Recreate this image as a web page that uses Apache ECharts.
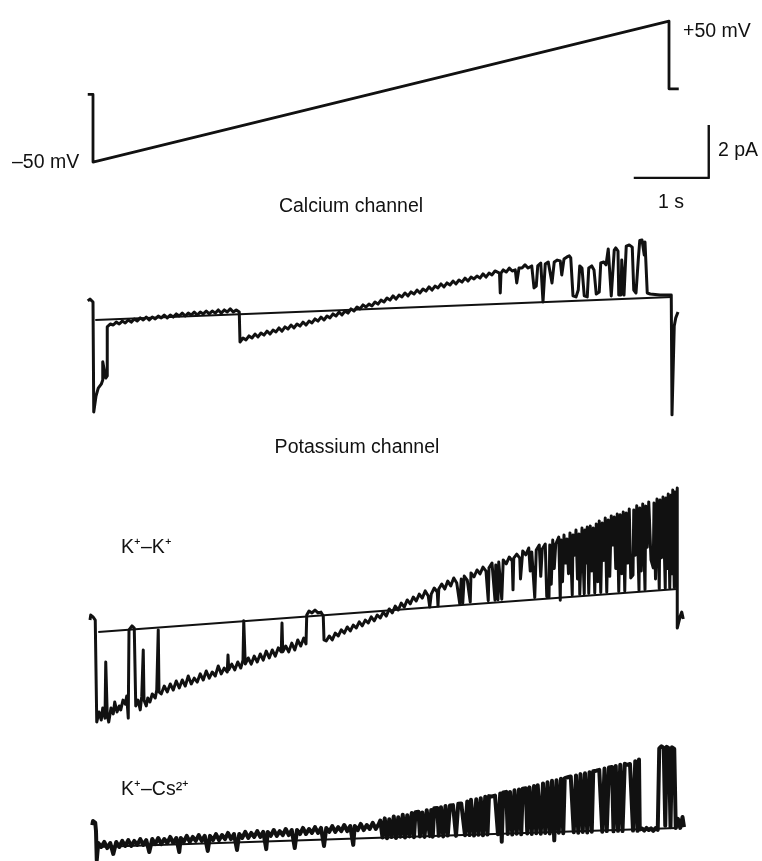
<!DOCTYPE html>
<html>
<head>
<meta charset="utf-8">
<script src="https://cdn.jsdelivr.net/npm/echarts@6/dist/echarts.min.js"></script>
<style>
  html, body { margin: 0; padding: 0; background: #fff; }
  #main { width: 762px; height: 861px; }
</style>
</head>
<body>
<div id="main"></div>
<script>
// time in s, voltage in mV, current in pA
var voltageTrace = [[-0.07,-2],[0,-2],[0,-50],[7.68,50],[7.68,2],[7.81,2]];

var scaleBarTime = [7.21, 8.21];     // 1 s
var scaleBarCurrent = [1.06, 3.06];  // 2 pA

var caLeak = [[0.03,0],[7.72,0.87]];
var caTrace = [
  [-0.07,0.72],[-0.04,0.79],[0,0.68],[0.01,-3.47],[0.04,-2.87],[0.07,-2.57],[0.11,-2.42],[0.13,-2.26],[0.13,-1.58],[0.15,-1.89],[0.17,-2.19],[0.19,-2.11],[0.19,-0.26],
  [0.23,-0.15],[0.27,-0.19],[0.31,-0.08],[0.35,-0.15],[0.39,-0.04],[0.43,-0.11],[0.47,0],[0.51,-0.08],[0.55,0.04],[0.59,-0.04],[0.63,0.08],[0.67,0],[0.71,0.11],[0.75,0],[0.79,0.11],[0.83,0.04],[0.87,0.15],[0.91,0.08],[0.95,0.19],[0.99,0.08],[1.03,0.19],[1.07,0.11],[1.11,0.23],[1.15,0.15],[1.19,0.26],[1.23,0.15],[1.27,0.26],[1.31,0.19],[1.35,0.3],[1.39,0.19],[1.43,0.3],[1.47,0.23],[1.51,0.34],[1.55,0.23],[1.59,0.34],[1.63,0.26],[1.67,0.38],[1.71,0.26],[1.75,0.38],[1.79,0.3],[1.83,0.42],[1.87,0.3],[1.91,0.38],[1.95,0.3],[1.96,-0.83],
  [2.0,-0.68],[2.04,-0.75],[2.08,-0.6],[2.12,-0.68],[2.16,-0.53],[2.2,-0.64],[2.24,-0.49],[2.28,-0.57],[2.32,-0.42],[2.36,-0.53],[2.4,-0.38],[2.44,-0.45],[2.48,-0.3],[2.52,-0.42],[2.56,-0.26],[2.6,-0.34],[2.64,-0.19],[2.68,-0.3],[2.72,-0.15],[2.76,-0.23],[2.8,-0.08],[2.84,-0.19],[2.88,-0.04],[2.92,-0.11],[2.96,0.04],[3.0,-0.04],[3.04,0.11],[3.08,0],[3.12,0.15],[3.16,0.08],[3.2,0.23],[3.24,0.15],[3.28,0.3],[3.32,0.19],[3.36,0.34],[3.4,0.26],[3.44,0.42],[3.48,0.34],[3.52,0.49],[3.56,0.42],[3.6,0.57],[3.64,0.49],[3.68,0.6],[3.72,0.53],[3.76,0.68],[3.8,0.6],
  [3.84,0.75],[3.88,0.68],[3.92,0.83],[3.96,0.75],[4.0,0.91],[4.04,0.79],[4.08,0.94],[4.12,0.87],[4.16,1.02],[4.2,0.91],[4.24,1.06],[4.28,0.98],[4.32,1.13],[4.36,1.02],[4.4,1.17],[4.44,1.09],[4.48,1.25],[4.52,1.13],[4.56,1.28],[4.6,1.21],[4.64,1.36],[4.68,1.25],[4.72,1.4],[4.76,1.32],[4.8,1.47],[4.84,1.36],[4.88,1.51],[4.92,1.43],[4.96,1.58],[5.0,1.47],[5.04,1.62],[5.08,1.55],[5.12,1.66],[5.16,1.58],[5.2,1.74],[5.24,1.62],[5.28,1.77],[5.32,1.7],[5.36,1.85],
  [5.42,1.77],[5.43,1.02],[5.44,1.77],[5.47,1.89],[5.51,1.81],[5.55,1.96],[5.59,1.85],[5.63,1.89],[5.65,1.4],[5.68,1.96],[5.72,1.96],[5.76,2.08],[5.8,1.96],[5.85,2.04],[5.88,1.21],[5.91,1.28],[5.93,2.04],[5.97,2.15],[6.0,0.68],[6.03,2.11],[6.07,2.19],[6.09,2.15],[6.12,1.4],[6.15,2.19],[6.19,2.26],[6.23,2.23],[6.25,1.7],[6.28,2.3],[6.32,2.38],
  [6.35,2.42],[6.37,2.34],[6.4,0.91],[6.44,0.87],[6.47,1.13],[6.49,2.04],[6.52,1.96],[6.55,0.91],[6.59,0.87],[6.61,1.96],[6.65,2.04],[6.68,1.89],[6.71,0.98],[6.75,1.06],[6.77,2.15],[6.81,2.19],[6.84,2.08],[6.87,2.68],[6.89,2.68],[6.91,0.91],[6.93,0.91],[6.95,2.64],[6.97,2.72],[7.0,2.6],[7.01,0.94],[7.04,0.94],[7.05,2.26],[7.08,0.94],[7.11,2.79],[7.15,2.83],[7.19,2.75],[7.21,1.13],[7.24,1.02],[7.27,2.26],[7.29,3.0],[7.32,3.02],[7.35,2.45],[7.36,2.94],[7.39,1.02],[7.43,0.98],[7.56,0.94],[7.71,0.94],[7.72,-3.58],[7.75,-0.23],[7.77,0.08],[7.8,0.3]
];

var kkLeak = [[0.07,0],[7.79,1.62]];
var kkTrace = [
  [-0.04,0.45],[-0.03,0.64],[0,0.57],[0.03,0.45],[0.05,-3.4],[0.08,-3.02],[0.11,-3.32],[0.13,-2.87],[0.16,-3.25],[0.17,-1.13],[0.19,-3.13],[0.21,-3.4],[0.24,-2.87],[0.27,-3.09],[0.29,-2.64],[0.32,-3.02],[0.35,-2.79],[0.37,-2.94],[0.4,-2.57],[0.43,-2.72],[0.45,-2.42],[0.47,-3.25],[0.48,0.08],[0.49,0.15],[0.52,0.23],[0.55,0.15],[0.57,-2.79],[0.6,-2.57],[0.63,-2.94],[0.65,-2.42],[0.67,-0.68],[0.68,-2.57],[0.71,-2.79],[0.73,-2.49],[0.76,-2.64],[0.79,-2.34],[0.83,-2.49],[0.85,-2.19],[0.87,0.08],[0.88,-2.26],
  [0.91,-2.34],[0.95,-2.04],[0.99,-2.26],[1.03,-1.96],[1.07,-2.19],[1.11,-1.85],[1.15,-2.11],[1.19,-1.81],[1.23,-2.04],[1.27,-1.66],[1.31,-1.96],[1.35,-1.74],[1.39,-1.89],[1.43,-1.58],[1.47,-1.81],[1.51,-1.47],[1.55,-1.74],[1.59,-1.51],[1.63,-1.66],[1.67,-1.28],[1.71,-1.58],[1.75,-1.36],[1.79,-1.51],[1.8,-0.87],[1.81,-1.43],[1.85,-1.21],[1.89,-1.43],[1.93,-1.13],[1.97,-1.36],[2.0,-1.06],[2.01,0.42],[2.03,-1.21],[2.07,-0.98],[2.11,-1.21],[2.15,-0.91],[2.19,-1.13],[2.23,-0.83],[2.27,-1.06],[2.31,-0.72],[2.35,-0.98],[2.39,-0.68],[2.43,-0.91],[2.47,-0.6],[2.51,-0.75],[2.52,0.34],[2.53,-0.75],[2.57,-0.53],[2.61,-0.75],[2.65,-0.42],[2.69,-0.68],[2.73,-0.3],[2.77,-0.53],[2.81,-0.23],[2.84,-0.45],[2.85,0.64],[2.88,0.79],[2.92,0.72],[2.96,0.83],[3.0,0.72],[3.04,0.75],[3.07,0.6],[3.08,-0.3],
  [3.11,-0.34],[3.15,-0.15],[3.19,-0.3],[3.23,-0.04],[3.27,-0.15],[3.31,0.08],[3.35,-0.04],[3.39,0.19],[3.43,0.04],[3.47,0.26],[3.51,0.15],[3.55,0.38],[3.59,0.23],[3.63,0.45],[3.67,0.34],[3.71,0.57],[3.75,0.42],[3.79,0.64],[3.83,0.53],
  [3.87,0.75],[3.91,0.6],[3.95,0.87],[3.99,0.72],[4.03,0.98],[4.07,0.83],[4.11,1.09],[4.15,0.94],[4.19,1.21],[4.23,1.06],[4.27,1.32],[4.31,1.17],[4.35,1.43],[4.39,1.28],[4.43,1.55],[4.47,1.36],[4.49,0.94],[4.51,1.43],[4.55,1.66],[4.59,1.51],[4.6,0.98],[4.61,1.62],[4.65,1.81],[4.69,1.62],[4.73,1.92],[4.77,1.74],[4.81,2.04],[4.85,1.85],[4.89,1.06],[4.91,2.0],[4.93,1.09],[4.95,2.11],[4.99,1.96],[5.03,1.13],[5.04,2.23],[5.08,2.08],[5.12,2.34],[5.16,2.19],[5.2,2.45],[5.24,2.3],[5.27,1.18],[5.28,2.42],[5.32,2.6],[5.36,1.2],[5.37,2.53],[5.4,1.22],[5.41,2.64],[5.45,1.24],[5.47,2.72],[5.51,2.57],[5.55,2.83],[5.59,2.68],[5.6,1.59],[5.61,2.79],[5.65,2.94],[5.69,2.79],[5.7,2.0],[5.73,3.06],[5.77,2.91],[5.81,3.17],[5.83,2.3],[5.85,3.02],[5.89,1.3],[5.91,3.09],[5.95,3.28],[5.97,2.1],[5.99,3.13],[6.03,3.32],[6.05,1.34],[6.08,1.32],[6.09,3.28],[6.11,1.8],[6.13,3.47],[6.15,2.4],[6.17,3.32],[6.21,3.58],[6.23,1.2],[6.24,3.47],[6.26,1.9],[6.28,3.66],[6.3,2.6],[6.32,3.51],[6.34,2.2],[6.36,3.74],[6.39,1.4],[6.4,3.66],[6.42,2.9],[6.44,3.85],[6.46,2.0],[6.48,3.7],[6.49,1.42],[6.52,3.92],[6.55,1.44],[6.56,3.85],[6.58,2.6],[6.59,3.96],[6.61,1.45],[6.63,4.0],[6.65,2.3],[6.67,3.92],[6.69,1.47],[6.71,4.08],[6.73,1.9],[6.75,4.19],[6.77,1.49],[6.79,4.11],[6.81,2.7],[6.83,4.3],[6.85,1.5],[6.87,4.23],[6.89,2.1],[6.91,4.38],[6.93,3.28],[6.95,4.34],[6.97,2.4],[6.99,4.45],[7.01,1.53],[7.03,4.42],[7.05,2.2],[7.07,4.53],[7.09,1.55],[7.11,4.49],[7.13,2.6],[7.15,4.64],[7.17,2.04],[7.2,2.15],[7.21,4.6],[7.23,2.9],[7.25,4.76],[7.28,1.58],[7.29,4.68],[7.31,2.3],[7.33,4.83],[7.36,1.6],[7.37,4.75],[7.39,3.2],[7.41,4.91],[7.44,2.72],[7.47,2.42],[7.48,4.87],[7.5,2.0],[7.52,5.02],[7.55,1.63],[7.56,4.98],[7.58,2.8],[7.6,5.09],[7.63,1.65],[7.64,5.06],[7.66,2.4],[7.67,5.21],[7.69,1.66],[7.71,5.17],[7.72,2.2],[7.73,5.36],[7.75,1.68],[7.76,5.28],[7.77,2.6],[7.79,5.43],[7.79,0.15],[7.83,0.6],[7.85,0.75],[7.87,0.49]
];

var kcsLeak = [[0.05,0],[7.79,0.72]];
var kcsTrace = [
  [-0.01,0.83],[0,0.98],[0.03,0.91],[0.04,0.6],[0.05,-0.49],[0.07,0.15],
  [0.11,0],[0.15,0.19],[0.19,-0.04],[0.23,0.15],[0.27,-0.26],[0.31,0.19],[0.35,0],[0.39,0.23],[0.43,0.04],[0.47,0.26],[0.51,0.04],[0.55,0.23],[0.59,0.08],[0.63,0.3],[0.67,0.08],[0.71,0.26],[0.75,-0.19],[0.79,0.3],[0.83,0.11],[0.87,0.34],[0.91,0.11],[0.95,0.3],[0.99,0.15],[1.03,0.38],[1.07,0.15],[1.11,0.34],[1.15,-0.19],[1.17,0.34],[1.21,0.19],[1.25,0.42],[1.29,0.19],[1.33,0.38],[1.37,0.23],[1.41,0.45],[1.45,0.23],[1.49,0.42],[1.53,-0.15],[1.56,0.42],[1.6,0.26],[1.64,0.49],[1.68,0.26],[1.72,0.45],[1.76,0.3],[1.8,0.53],[1.84,0.3],[1.88,0.49],[1.92,-0.11],[1.95,0.49],[1.99,0.34],[2.03,0.57],[2.07,0.34],[2.11,0.53],[2.15,0.38],[2.19,0.6],[2.23,0.38],[2.27,0.57],[2.31,-0.08],[2.33,0.57],[2.37,0.42],[2.41,0.64],[2.45,0.42],[2.49,0.6],[2.53,0.45],[2.57,0.68],[2.61,0.45],[2.65,0.64],[2.69,-0.04],[2.72,0.64],[2.76,0.49],[2.8,0.72],[2.84,0.49],[2.88,0.68],[2.92,0.53],[2.96,0.75],[3.0,0.53],[3.04,0.72],[3.08,0.04],[3.11,0.72],[3.15,0.57],[3.19,0.79],[3.23,0.57],[3.27,0.75],[3.31,0.6],[3.35,0.83],[3.39,0.6],[3.43,0.79],[3.47,0.08],[3.49,0.79],[3.53,0.64],[3.57,0.87],[3.61,0.64],[3.65,0.83],[3.69,0.68],[3.73,0.91],[3.77,0.68],[3.81,0.87],
  [3.83,1.0],[3.86,0.36],[3.89,1.08],[3.92,0.33],[3.95,1.05],[3.98,0.38],[4.01,1.15],[4.04,0.34],[4.07,1.12],[4.1,0.39],[4.13,1.22],[4.16,0.36],[4.19,1.2],[4.22,0.4],[4.25,1.28],[4.28,0.37],
  [4.3,1.31],[4.32,1.26],[4.34,1.33],[4.36,0.4],[4.39,1.3],[4.42,0.38],[4.45,1.39],[4.47,1.34],[4.49,0.41],[4.51,1.4],[4.53,0.39],[4.55,1.46],[4.57,1.41],[4.59,1.47],[4.61,0.42],[4.64,1.5],[4.67,0.4],[4.7,1.55],[4.73,0.43],[4.76,1.57],[4.78,1.62],[4.8,1.58],[4.82,1.64],[4.84,0.42],[4.87,1.63],[4.89,1.68],[4.91,1.64],[4.93,1.7],[4.96,0.44],[4.99,1.72],[5.02,0.45],[5.04,1.78],[5.06,1.74],[5.08,0.43],[5.11,1.8],[5.14,0.46],[5.17,1.84],[5.2,0.44],[5.23,1.9],[5.26,0.47],
  [5.28,1.92],[5.3,1.96],[5.32,1.91],[5.34,1.98],[5.36,1.94],[5.38,2.0],[5.4,0.48],[5.43,2.02],[5.45,0.2],[5.47,2.06],[5.49,2.02],[5.51,2.08],[5.53,0.49],[5.56,2.08],[5.59,0.47],[5.62,2.14],[5.65,0.5],[5.68,2.17],[5.71,0.48],[5.73,2.2],[5.75,2.16],[5.77,2.22],[5.79,0.51],[5.82,2.25],[5.85,0.49],[5.88,2.3],[5.91,0.52],[5.93,2.33],[5.95,2.29],[5.97,0.5],[6.0,2.4],[6.03,0.53],[6.06,2.44],[6.09,0.51],[6.12,2.5],[6.15,0.25],[6.18,2.52],[6.21,0.54],[6.24,2.58],[6.27,0.52],
  [6.29,2.6],[6.31,2.56],[6.33,2.63],[6.35,2.58],[6.37,2.66],[6.39,2.62],[6.41,0.56],[6.44,2.7],[6.47,0.54],[6.5,2.75],[6.53,0.57],[6.56,2.78],[6.59,0.55],[6.62,2.82],[6.65,0.58],[6.67,2.86],[6.69,2.82],[6.71,2.88],[6.73,2.84],[6.75,2.91],[6.77,2.87],[6.79,0.58],[6.82,2.96],[6.85,0.6],[6.88,3.0],[6.9,2.96],[6.92,3.02],[6.94,0.59],[6.97,3.06],[7.0,0.61],[7.03,3.1],[7.06,0.6],[7.09,3.14],[7.12,3.1],[7.14,3.17],[7.16,3.13],[7.18,3.2],[7.2,0.62],[7.23,3.24],[7.26,0.61],[7.28,3.3],
  [7.29,0.66],[7.32,0.7],[7.35,0.62],[7.38,0.72],[7.41,0.64],[7.44,0.7],[7.47,0.61],[7.5,0.71],[7.53,0.65],
  [7.55,3.72],[7.58,3.8],[7.61,3.74],[7.63,0.8],[7.65,3.78],[7.68,3.72],[7.7,0.75],[7.72,3.76],[7.75,3.7],[7.77,0.72],[7.8,1.06],[7.83,0.72],[7.86,1.13],[7.88,0.75]
];

var voltageLabels = ['\u201350 mV', '+50 mV'];
var scaleLabels = ['2 pA', '1 s'];
var panelTitles = ['Calcium channel', 'Potassium channel'];
var traceLabels = ['K\u207A\u2013K\u207A', 'K\u207A\u2013Cs\u00B2\u207A'];

var ink = '#111';
var font = '19.5px "Liberation Sans", Arial, sans-serif';

// every panel shares one time scale (75 px per s) and one current scale (26.5 px per pA)
function grid(top, height) {
  return {left: 85.5, width: 637.5, top: top, height: height, outerBoundsMode: 'none', containLabel: false};
}
function xAxis(i) {
  return {type: 'value', gridIndex: i, min: -0.1, max: 8.4, show: false};
}
function yAxis(i, min, max) {
  return {type: 'value', gridIndex: i, min: min, max: max, show: false, scale: true};
}
function trace(i, data, width) {
  return {
    type: 'line', xAxisIndex: i, yAxisIndex: i, data: data,
    showSymbol: false, symbol: 'none', silent: true, animation: false,
    lineStyle: {color: ink, width: width || 2, join: 'round'}
  };
}
function label(text, x, y, align) {
  return {
    type: 'text', x: x, y: y, silent: true,
    style: {text: text, font: font, fill: ink, align: align || 'left', verticalAlign: 'middle'}
  };
}

var scaleBar = [
  [scaleBarTime[0], scaleBarCurrent[0]],
  [scaleBarTime[1], scaleBarCurrent[0]],
  [scaleBarTime[1], scaleBarCurrent[1]]
];

var chart = echarts.init(document.getElementById('main'), null, {renderer: 'canvas'});
chart.setOption({
  backgroundColor: '#fff',
  animation: false,
  grid: [
    grid(7, 169.2),
    grid(100, 106),
    grid(227.25, 212),
    grid(473, 265),
    grid(727.75, 145.75)
  ],
  xAxis: [xAxis(0), xAxis(1), xAxis(2), xAxis(3), xAxis(4)],
  yAxis: [
    yAxis(0, -60, 60),
    yAxis(1, 0, 4),
    yAxis(2, -4.5, 3.5),
    yAxis(3, -4, 6),
    yAxis(4, -1, 4.5)
  ],
  series: [
    trace(0, voltageTrace, 2.8),
    trace(1, scaleBar, 2.4),
    trace(2, caLeak, 2),
    trace(2, caTrace, 3),
    trace(3, kkLeak, 2),
    trace(3, kkTrace, 3),
    trace(4, kcsLeak, 2),
    trace(4, kcsTrace, 4)
  ],
  graphic: [
    label(voltageLabels[0], 12, 163),
    label(voltageLabels[1], 683, 32),
    label(scaleLabels[0], 718, 151),
    label(scaleLabels[1], 671, 203, 'center'),
    label(panelTitles[0], 351, 207, 'center'),
    label(panelTitles[1], 357, 448, 'center'),
    label(traceLabels[0], 121, 548),
    label(traceLabels[1], 121, 790)
  ]
});
</script>
</body>
</html>
